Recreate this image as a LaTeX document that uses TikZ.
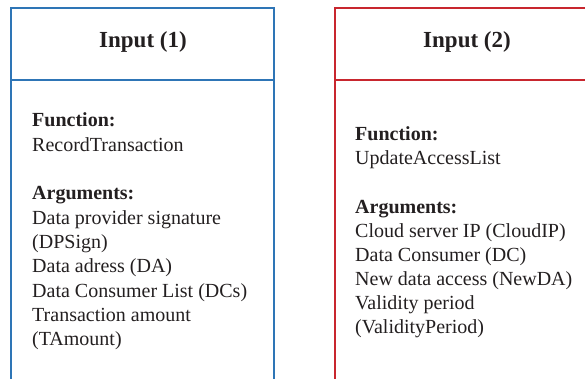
\documentclass[tikz,border=0pt]{standalone}
\usepackage{fontspec}
\setmainfont{Liberation Serif}
\definecolor{boxblue}{RGB}{46,117,182}
\definecolor{boxred}{RGB}{200,38,46}
\definecolor{ink}{RGB}{35,31,32}
\begin{document}
\begin{tikzpicture}[x=1pt,y=-1pt,
  frame/.style={line width=1.3pt},
  title/.style={font=\fontsize{23}{27}\selectfont\bfseries, anchor=base, inner sep=0pt, text=ink},
  body/.style={font=\fontsize{20}{24}\selectfont, anchor=base west, inner sep=0pt, text=ink},
  head/.style={body, font=\fontsize{20}{24}\selectfont\bfseries}]
\useasboundingbox (0,0) rectangle (585,379);
\clip (0,0) rectangle (585,379);

% left frame: Input (1)
\draw[frame, boxblue] (11,8) rectangle (274,400);
\draw[frame, boxblue] (11,80) -- (274,80);
\node[title] (t1) at (143,48) {Input (1)};

\node[head] (a1) at (32,127) {Function:};
\node[body] (a2) at (32,151.3) {RecordTransaction};
\node[head] (a3) at (32,199.9) {Arguments:};
\node[body] (a4) at (32,224.2) {Data provider signature};
\node[body] (a5) at (32,248.5) {(DPSign)};
\node[body] (a6) at (32,272.8) {Data adress (DA)};
\node[body] (a7) at (32,297.1) {Data Consumer List (DCs)};
\node[body] (a8) at (32,321.4) {Transaction amount};
\node[body] (a9) at (32,345.7) {(TAmount)};

% right frame: Input (2)
\draw[frame, boxred] (335,8) rectangle (600,400);
\draw[frame, boxred] (335,80) -- (600,80);
\node[title] (t2) at (467,48) {Input (2)};

\node[head] (b1) at (355,141) {Function:};
\node[body] (b2) at (355,165) {UpdateAccessList};
\node[head] (b3) at (355,213) {Arguments:};
\node[body] (b4) at (355,237) {Cloud server IP (CloudIP)};
\node[body] (b5) at (355,261) {Data Consumer (DC)};
\node[body] (b6) at (355,285) {New data access (NewDA)};
\node[body] (b7) at (355,309) {Validity period};
\node[body] (b8) at (355,333) {(ValidityPeriod)};
\end{tikzpicture}
\end{document}
